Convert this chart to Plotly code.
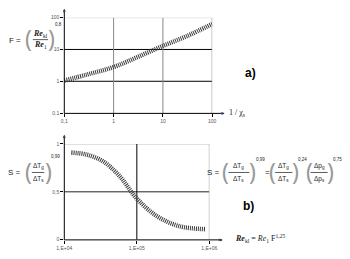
import plotly.graph_objects as go

# ---- data ----
inv_chi = [0.1, 0.3, 1, 3, 10, 30, 100]
F_vals = [1.05, 1.65, 2.8, 5.7, 13, 26, 63]

re_kl = [1.25e4, 2.0e4, 3.4e4, 5.7e4, 1.0e5, 1.9e5, 3.9e5, 8.7e5]
S_vals = [0.91, 0.89, 0.82, 0.67, 0.43, 0.245, 0.14, 0.11]

top_xticks = [0.1, 1, 10, 100]
top_xtext = ["0,1", "1", "10", "100"]
top_yticks = [0.1, 1, 10, 100]
top_ytext = ["0,1", "1", "10", "100"]
bot_xticks = [1e4, 1e5, 1e6]
bot_xtext = ["1,E+04", "1,E+05", "1,E+06"]
bot_yticks = [0, 0.5, 1]
bot_ytext = ["0", "0,5", "1"]

W, H = 350, 259
def px(x): return x / W
def py(y): return 1 - y / H

fig = go.Figure()
line_style = dict(color="#3a3a3a", width=4.5, dash="1px,1px")
fig.add_trace(go.Scatter(x=inv_chi, y=F_vals, mode="lines", line=dict(shape="spline", **line_style),
                         xaxis="x", yaxis="y", showlegend=False, hoverinfo="skip"))
fig.add_trace(go.Scatter(x=re_kl, y=S_vals, mode="lines", line=dict(shape="spline", **line_style),
                         xaxis="x2", yaxis="y2", showlegend=False, hoverinfo="skip"))

tickfont = dict(family="Liberation Sans", size=5, color="#555")
common = dict(showgrid=False, zeroline=False, showline=False, ticks="outside", ticklen=3,
              tickcolor="black", tickfont=tickfont, fixedrange=True)

fig.update_layout(
    width=W, height=H, margin=dict(l=0, r=0, t=0, b=0),
    paper_bgcolor="white", plot_bgcolor="white",
    xaxis=dict(type="log", range=[-1, 2], domain=[px(59), px(214)], anchor="y",
               tickvals=top_xticks, ticktext=top_xtext, **common),
    yaxis=dict(type="log", range=[-1, 2], domain=[py(112.7), py(15)], anchor="x",
               tickvals=top_yticks, ticktext=top_ytext, **common),
    xaxis2=dict(type="log", range=[4, 6], domain=[px(59), px(211)], anchor="y2",
                tickvals=bot_xticks, ticktext=bot_xtext, **common),
    yaxis2=dict(range=[0, 1], domain=[py(242.3), py(144.3)], anchor="x2",
                tickvals=bot_yticks, ticktext=bot_ytext, **common),
)

shapes = []
for v in top_yticks[1:]:
    col = "#bbbbbb" if v == top_yticks[-1] else "black"
    shapes.append(dict(type="line", xref="x", yref="y", x0=top_xticks[0], x1=top_xticks[-1], y0=v, y1=v,
                       line=dict(color=col, width=1), layer="below"))
for v in top_xticks[1:]:
    shapes.append(dict(type="line", xref="x", yref="y", x0=v, x1=v, y0=top_yticks[0], y1=top_yticks[-1],
                       line=dict(color="#888888", width=1), layer="below"))
for v in bot_yticks[1:]:
    col = "#bbbbbb" if v == bot_yticks[-1] else "#222"
    shapes.append(dict(type="line", xref="x2", yref="y2", x0=bot_xticks[0], x1=bot_xticks[-1], y0=v, y1=v,
                       line=dict(color=col, width=1), layer="below"))
for v in bot_xticks[1:]:
    col = "#999999" if v == bot_xticks[-1] else "black"
    shapes.append(dict(type="line", xref="x2", yref="y2", x0=v, x1=v, y0=bot_yticks[0], y1=bot_yticks[-1],
                       line=dict(color=col, width=1), layer="below"))

def pline(x0, y0, x1, y1, col="black", w=1):
    shapes.append(dict(type="line", xref="paper", yref="paper", x0=px(x0), y0=py(y0), x1=px(x1), y1=py(y1),
                       line=dict(color=col, width=w)))
pline(59, 7, 59, 113)
pline(59, 113, 226, 113)
pline(59, 136, 59, 242.5)
pline(59, 242.5, 224, 242.5)

pline(26, 37.5, 42, 37.5, "#333", 0.8)
pline(25, 173.5, 38, 173.5, "#333", 0.8)
pline(231, 173.5, 253, 173.5, "#333", 0.8)
pline(280, 173.5, 298, 173.5, "#333", 0.8)
pline(317, 173.5, 335, 173.5, "#333", 0.8)

annotations = []
def txt(x, y, s, size=7, family="Liberation Sans", color="#222", xanchor="center"):
    annotations.append(dict(x=px(x), y=py(y), xref="paper", yref="paper", text=s, showarrow=False,
                            xanchor=xanchor, yanchor="middle",
                            font=dict(size=size, family=family, color=color)))

for (x, y, ax, ay) in [(59, 6, 0, 6), (227, 113, -6, 0), (59, 135, 0, 6), (225, 242.5, -6, 0)]:
    annotations.append(dict(x=px(x), y=py(y), ax=ax, ay=ay, xref="paper", yref="paper",
                            showarrow=True, arrowhead=2, arrowsize=0.6, arrowwidth=1, text=""))

serif = "Liberation Serif"
pc = "#999999"
pf = "Noto Sans"
ps = 23
txt(16, 38, "F =", 8, xanchor="right")
txt(22, 36, "(", ps, pf, pc)
txt(34, 32, "<i><b>Re</b></i><sub>kl</sub>", 8, serif)
txt(34, 43, "<i><b>Re</b></i><sub>1</sub>", 8, serif)
txt(46, 36, ")", ps, pf, pc)
txt(53, 22, "0,8", 4.5)

txt(16, 174, "S =", 8, xanchor="right")
txt(21, 172, "(", ps, pf, pc)
txt(31.5, 167, "ΔT<sub>g</sub>", 6.5)
txt(31.5, 180, "ΔT<sub>s</sub>", 6.5)
txt(42, 172, ")", ps, pf, pc)
txt(50, 157, "0,99", 4.5)

txt(224, 174, "S =", 8, xanchor="right")
txt(228, 172, "(", ps, pf, pc)
txt(242, 167, "ΔT<sub>g</sub>", 6.5)
txt(242, 180, "ΔT<sub>s</sub>", 6.5)
txt(256, 172, ")", ps, pf, pc)
txt(265, 160, "0,99", 4.5)
txt(272, 174, "=", 8)
txt(277, 172, "(", ps, pf, pc)
txt(289, 167, "ΔT<sub>g</sub>", 6.5)
txt(289, 180, "ΔT<sub>s</sub>", 6.5)
txt(301, 172, ")", ps, pf, pc)
txt(309, 160, "0,24", 4.5)
txt(316, 172, "(", ps, pf, pc)
txt(326, 167, "Δp<sub>g</sub>", 6.5)
txt(326, 180, "Δp<sub>s</sub>", 6.5)
txt(338, 172, ")", ps, pf, pc)
txt(345.5, 160, "0,75", 4.5)

txt(254, 72, "<b>a)</b>", 12, color="black")
txt(252, 208, "<b>b)</b>", 12, color="black")
txt(229, 113, "1 / χ<sub>s</sub>", 8, serif, xanchor="left")
txt(236, 241, "<i><b>Re</b></i><sub>kl</sub> = <i>Re</i><sub>1</sub> F<sup>1,25</sup>", 8, serif, xanchor="left")

fig.update_layout(shapes=shapes, annotations=annotations)
fig.write_html("out.html")
